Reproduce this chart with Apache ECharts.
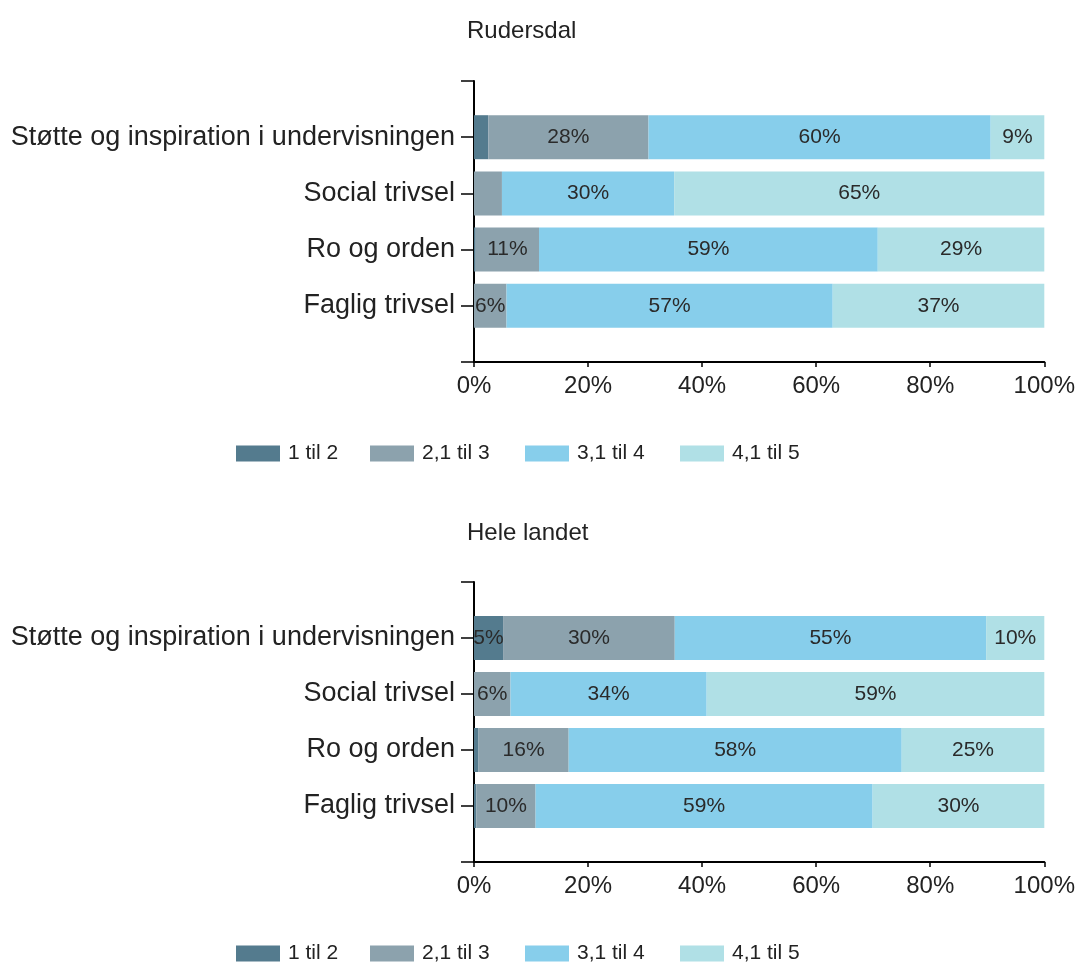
<!DOCTYPE html>
<html>
<head>
<meta charset="utf-8">
<script src="https://cdn.jsdelivr.net/npm/echarts@6/dist/echarts.min.js"></script>
<style>
  html, body { margin: 0; padding: 0; background: #fff; }
  #main { width: 1078px; height: 965px; }
</style>
</head>
<body>
<div id="main"></div>
<script>
// categories (top to bottom)
const categories = ['Støtte og inspiration i undervisningen', 'Social trivsel', 'Ro og orden', 'Faglig trivsel']
const seriesNames = ['1 til 2', '2,1 til 3', '3,1 til 4', '4,1 til 5']

// Rudersdal, percent per category
const rud1 = [2.5, 0, 0.3, 0]
const rud2 = [28.1, 4.9, 11.1, 5.7]
const rud3 = [60.0, 30.2, 59.4, 57.2]
const rud4 = [9.4, 64.9, 29.2, 37.1]

// Hele landet, percent per category
const hel1 = [5.1, 0, 0.8, 0.4]
const hel2 = [30.1, 6.4, 15.8, 10.4]
const hel3 = [54.6, 34.4, 58.4, 59.1]
const hel4 = [10.2, 59.2, 25.0, 30.1]

const colors = ['#547b8e', '#8ca2ad', '#87ceeb', '#b0e0e6']
const font = 'Liberation Sans, Arial, sans-serif'

const chart = echarts.init(document.getElementById('main'))

// pad with an empty slot above and below, like the original axis
const pad = arr => ['-', ...arr, '-']
const yCats = ['', ...categories, '']

const grids = [
    { left: 474, width: 571, top: 81, height: 281 },
    { left: 474, width: 571, top: 582, height: 280 }
]

const makeX = i => ({
    type: 'value', gridIndex: i, min: 0, max: 100, interval: 20,
    axisLine: { show: true, onZero: false, lineStyle: { color: '#000', width: 2 } },
    axisTick: { show: true, length: 5, lineStyle: { color: '#000', width: 1.5 } },
    splitLine: { show: false },
    axisLabel: { formatter: '{value}%', fontSize: 24, color: '#222', margin: 12, fontFamily: font,
        showMinLabel: true, showMaxLabel: true }
})

const makeY = i => ({
    type: 'category', gridIndex: i, data: yCats, inverse: true, boundaryGap: false,
    axisLine: { show: true, lineStyle: { color: '#000', width: 2 } },
    axisTick: { show: true, length: 13, lineStyle: { color: '#000', width: 1.5 } },
    axisLabel: { fontSize: 27, color: '#222', margin: 19, fontFamily: font, interval: 0 }
})

const barLabel = {
    show: true,
    position: 'inside',
    fontSize: 21,
    color: '#2a2a2a',
    fontFamily: font,
    formatter: p => (p.value >= 5 ? Math.round(p.value) + '%' : '')
}

const makeSeries = (gi, stack, arrs) => arrs.map((a, k) => ({
    name: seriesNames[k],
    type: 'bar',
    stack: stack,
    xAxisIndex: gi,
    yAxisIndex: gi,
    barWidth: 44,
    data: pad(a),
    itemStyle: { color: colors[k] },
    label: barLabel,
    emphasis: { disabled: true }
}))

// legends: one per item so positions match the original
const legendLeft = [231, 365, 520, 675]
const legendTop = [438, 938]
const legends = []
legendTop.forEach(t => {
    seriesNames.forEach((n, k) => {
        legends.push({
            data: [n], left: legendLeft[k], top: t,
            itemWidth: 44, itemHeight: 16, itemGap: 0,
            textStyle: { fontSize: 21, color: '#222', fontFamily: font, padding: [0, 0, 0, 3] },
            icon: 'rect', selectedMode: false
        })
    })
})

const titleStyle = { fontSize: 24, fontWeight: 'normal', color: '#222', fontFamily: font }

const option = {
    animation: false,
    color: colors,
    title: [
        { text: 'Rudersdal', left: 462, top: 14, textStyle: titleStyle },
        { text: 'Hele landet', left: 462, top: 516, textStyle: titleStyle }
    ],
    legend: legends,
    grid: grids,
    xAxis: [makeX(0), makeX(1)],
    yAxis: [makeY(0), makeY(1)],
    series: [
        ...makeSeries(0, 'rud', [rud1, rud2, rud3, rud4]),
        ...makeSeries(1, 'hel', [hel1, hel2, hel3, hel4])
    ]
}

chart.setOption(option)
</script>
</body>
</html>
